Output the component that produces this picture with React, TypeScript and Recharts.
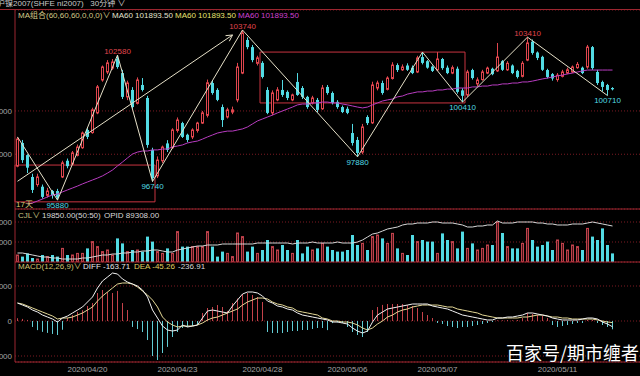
import React from 'react';
import {
  ComposedChart, Bar, Line, XAxis, YAxis, CartesianGrid,
  ReferenceLine, ReferenceArea, ReferenceDot
} from 'recharts';

// 30-minute candles (one entry per bar)
const opens = [
  97450, 98520, 97960, 96950, 96600, 96500, 96100, 96300, 96300, 96950,
  97700, 97550, 97950, 98300, 99120, 99000, 99910, 101430, 101800, 101980,
  102400, 101750, 100650, 100970, 100350, 101200, 100600, 98200, 97000, 97700,
  98500, 98300, 99100, 99440, 98900, 98800, 99100, 99440, 99800, 101290,
  100970, 100180, 99720, 99950, 100510, 101750, 103280, 102950, 102200, 102220,
  100970, 99910, 100510, 100970, 100880, 100510, 101340, 101060, 100650, 100370,
  100510, 100100, 101110, 100830, 100420, 100180, 100100, 98980, 98660, 98100,
  99720, 99450, 101060, 101290, 101000, 101500, 102120, 101900, 102100, 102000,
  101800, 102490, 102300, 102050, 101900, 102400, 102000, 101750, 101950, 100950,
  100740, 101890, 101250, 101450, 101750, 101950, 101850, 102300, 101900, 102100,
  101850, 101600, 102350, 103200, 102700, 102500, 101890, 101700, 101450, 101600,
  101750, 101800, 102000, 102000, 102030, 102950, 101800, 101340, 101200, 101060,
];
const highs = [
  98800, 98660, 98000, 97100, 97100, 96600, 96450, 96350, 96400, 97700,
  97800, 98150, 98450, 99050, 99200, 100150, 101200, 102100, 102350, 102400,
  102580, 101900, 101400, 101100, 101550, 101520, 100700, 98300, 97900, 98400,
  98650, 99200, 99700, 99500, 98950, 99200, 99500, 100000, 101450, 101400,
  101050, 100300, 100150, 100200, 102220, 103740, 103400, 103050, 102550, 102300,
  101100, 100950, 101100, 101430, 100950, 100800, 101750, 101150, 100700, 100700,
  100600, 101200, 101200, 100900, 100500, 100250, 100200, 99400, 98800, 99400,
  99800, 101350, 101400, 101400, 101600, 102250, 102200, 102150, 102200, 102100,
  102550, 102720, 102350, 102100, 102720, 102450, 102100, 102100, 102050, 101050,
  101900, 101950, 101550, 101900, 102050, 102000, 103140, 102350, 102300, 102150,
  101900, 102300, 103410, 103300, 102750, 102550, 101950, 101750, 101750, 101900,
  102000, 102100, 102260, 102050, 103050, 103000, 101900, 101400, 101250, 101100,
];
const lows = [
  97400, 97600, 97130, 96210, 96500, 95950, 96000, 95950, 95880, 96900,
  97350, 97500, 97900, 98250, 98700, 98950, 99850, 101350, 101700, 101900,
  101950, 100550, 100500, 100100, 100300, 100900, 98300, 96740, 96900, 97600,
  98100, 98250, 99000, 98750, 98550, 98700, 99000, 99400, 99700, 100750,
  100450, 99260, 99650, 99850, 100400, 101700, 102850, 102250, 102100, 101500,
  99850, 99800, 100450, 100650, 100500, 100450, 100700, 100550, 100100, 100300,
  99950, 100050, 100750, 100300, 100100, 99900, 99850, 98400, 97880, 98000,
  99350, 99400, 100950, 100750, 100950, 101450, 101800, 101850, 101850, 101700,
  101750, 102150, 101950, 101800, 101850, 101900, 101700, 101700, 100800, 100410,
  100650, 101450, 101150, 101400, 101700, 101650, 101800, 101850, 101850, 101700,
  101500, 101550, 102300, 102600, 102350, 101850, 101500, 101400, 101350, 101550,
  101700, 101750, 101950, 101700, 101950, 101900, 101200, 100900, 100710, 100950,
];
const closes = [
  98700, 97730, 97380, 96350, 96950, 96030, 96300, 96100, 96000, 97600,
  97450, 98060, 98330, 98980, 98800, 100050, 101110, 102030, 102220, 102260,
  102030, 100650, 101290, 100180, 101430, 100970, 98430, 96900, 97730, 98330,
  98200, 99120, 99580, 98800, 98660, 99120, 99440, 99910, 101300, 100830,
  100510, 99580, 100050, 100050, 102030, 103600, 102950, 102350, 102450, 101570,
  99910, 100830, 100970, 100740, 100600, 100740, 100740, 100650, 100180, 100600,
  100050, 101060, 100830, 100370, 100180, 99950, 99910, 98520, 98060, 99260,
  99440, 101200, 101290, 100830, 101520, 102120, 101890, 102030, 101900, 101750,
  102450, 102220, 102000, 101850, 102400, 101980, 101750, 102000, 100880, 100700,
  101800, 101520, 101430, 101800, 101980, 101700, 102490, 101900, 102200, 101750,
  101570, 102200, 103140, 102680, 102450, 101900, 101570, 101500, 101650, 101800,
  101900, 102030, 102150, 101750, 102950, 101980, 101290, 101110, 100970, 101000,
];
const ma60 = [
  null, null, 95700, 95750, 95840, 95930, 96030, 96120, 96160, 96260,
  96350, 96440, 96530, 96630, 96720, 96810, 96900, 97000, 97130, 97270,
  97460, 97640, 97830, 98010, 98100, 98150, 98150, 98200, 98200, 98240,
  98240, 98340, 98380, 98430, 98520, 98570, 98610, 98700, 98800, 98890,
  98980, 99030, 99070, 99070, 99120, 99170, 99260, 99400, 99540, 99630,
  99720, 99810, 99910, 100000, 100090, 100180, 100280, 100320, 100320, 100370,
  100370, 100410, 100410, 100370, 100370, 100320, 100280, 100230, 100180, 100140,
  100180, 100280, 100370, 100460, 100510, 100550, 100650, 100690, 100780, 100830,
  100880, 100880, 100920, 100920, 100970, 100970, 101010, 101010, 101060, 101060,
  101060, 101110, 101110, 101150, 101150, 101200, 101200, 101250, 101250, 101290,
  101290, 101340, 101340, 101380, 101430, 101480, 101520, 101570, 101620, 101660,
  101710, 101750, 101800, 101850, 101890, 101890, 101890, 101890, 101890, 101890,
];
const volumes = [
  3500, 2700, 4300, 2000, 1500, 3500, 2700, 3500, 2700, 6800,
  3500, 3500, 4300, 4300, 6800, 10200, 7700, 5200, 6000, 3500,
  11800, 9300, 5200, 6000, 6000, 5200, 12700, 10200, 5200, 4300,
  6800, 4300, 15200, 7700, 7700, 7700, 7700, 7700, 15200, 7700,
  2700, 5200, 4300, 2700, 14500, 12700, 5200, 7700, 4300, 6000,
  11000, 7700, 6000, 8500, 6000, 4300, 11000, 4300, 7700, 6000,
  6800, 9300, 7700, 6000, 5200, 5200, 6000, 13500, 8500, 9300,
  6000, 12700, 13500, 11800, 9300, 14300, 6800, 4300, 3500, 13500,
  10200, 11000, 10200, 10200, 4300, 14300, 11000, 10200, 6800, 15200,
  6800, 9300, 6000, 6800, 8500, 8500, 20000, 14500, 7700, 6800,
  6800, 9300, 16800, 11000, 7700, 8500, 10200, 6000, 11000, 9300,
  6000, 8500, 7700, 6000, 16800, 12700, 11000, 16800, 8500, 4300,
];
const openInterest = [
  74860, 74860, 74320, 73780, 73240, 72700, 72700, 72160, 72160, 71620,
  71620, 71620, 71620, 72160, 72160, 72700, 73240, 73780, 73780, 74320,
  74320, 74860, 74860, 75400, 75400, 75940, 75940, 76480, 76480, 75940,
  75400, 75400, 76480, 77020, 77560, 78100, 78640, 78640, 79180, 79180,
  79180, 79720, 79720, 79720, 79720, 79720, 79720, 79720, 80260, 80260,
  80260, 80260, 80260, 80260, 80260, 79720, 80260, 80260, 80260, 80800,
  80260, 80260, 80260, 80260, 80800, 80260, 80260, 80260, 80800, 81880,
  83500, 85120, 85660, 86740, 87820, 88360, 88900, 89980, 90520, 90520,
  91060, 91060, 91060, 91600, 91600, 91060, 91060, 91060, 90520, 89980,
  88900, 88900, 89440, 89440, 89980, 89980, 92140, 91060, 91060, 91060,
  91600, 91600, 91600, 91600, 91060, 91060, 90520, 90520, 89980, 89980,
  89980, 90520, 90520, 90520, 91060, 91600, 91060, 90520, 89980, 89440,
];
const diffs = [
  514, 457, 400, 314, 257, 171, 114, 57, -29, 86,
  143, 229, 314, 400, 543, 686, 943, 1143, 1257, 1371,
  1343, 1200, 1114, 1057, 1000, 886, 686, 314, 86, -143,
  -257, -286, -257, -114, -171, -143, -114, 86, 286, 314,
  286, 257, 229, 429, 600, 771, 829, 829, 800, 714,
  571, 514, 429, 400, 343, 314, 229, 171, 143, 114,
  86, 57, 29, -29, -29, -57, -86, -200, -286, -343,
  -286, -29, 171, 257, 343, 371, 400, 429, 457, 486,
  486, 486, 486, 429, 400, 371, 343, 286, 229, 171,
  143, 114, 86, 57, 29, 29, 86, 86, 114, 114,
  143, 171, 229, 229, 200, 171, 143, 86, 57, 29,
  29, 29, 29, 57, 86, 86, 57, -29, -86, -164,
];
const deas = [
  514, 486, 430, 371, 314, 257, 200, 143, 57, 86,
  86, 114, 171, 229, 314, 400, 571, 714, 829, 943,
  1057, 1086, 1086, 1057, 971, 857, 743, 600, 400, 114,
  -29, -114, -171, -143, -143, -143, -114, -57, 29, 86,
  114, 171, 229, 286, 343, 457, 543, 600, 657, 657,
  629, 543, 486, 457, 400, 371, 286, 257, 229, 200,
  171, 86, 57, 0, 0, -29, -29, -57, -114, -200,
  -257, -200, -86, 0, 114, 171, 257, 314, 343, 400,
  429, 457, 457, 457, 457, 429, 400, 400, 343, 314,
  286, 257, 229, 171, 143, 114, 86, 86, 86, 86,
  86, 114, 114, 143, 171, 171, 143, 114, 114, 86,
  86, 57, 57, 57, 57, 57, 29, 0, -29, -45,
];
const macdHist = [
  80, 60, 30, -170, -260, -310, -340, -370, -400, -250,
  86, 171, 260, 310, 430, 514, 800, 886, 829, 800,
  860, 514, 314, -170, -230, -314, -543, -1000, -1114, -914,
  -740, -457, -314, -200, -170, -140, -114, 230, 371, 400,
  457, 400, 290, 514, 640, 771, 800, 743, 686, 543,
  -314, -343, -343, -343, -314, -286, -286, -257, -257, -229,
  -200, -200, -260, -60, -40, -57, -171, -314, -400, -457,
  -314, 314, 400, 460, 486, 486, 486, 486, 457, 429,
  371, 257, 171, 86, -57, -86, -143, -171, -200, -171,
  -171, -143, -114, -86, -57, -29, 20, 20, 29, 20,
  29, 86, 229, 200, 171, 143, 86, -114, -171, -143,
  -114, -86, -57, -57, 29, 29, -57, -114, -171, -237,
];

// zigzag turning points (bar index, price)
const zzIdx = [0, 8, 20, 27, 45, 68, 81, 89, 102, 118];
const zzVal = [98800, 95880, 102580, 96740, 103740, 97880, 102720, 100410, 103410, 100710];
const highMarks = [[20, 102580], [45, 103740], [102, 103410]];
const lowMarks = [[8, 95880], [27, 96740], [68, 97880], [89, 100410], [118, 100710]];
const trendLine = [{ x: 0, y: 96750 }, { x: 43, y: 103510 }];
const boxes = [
  { x1: 0, x2: 27, y1: 95800, y2: 97500 },
  { x1: 49, x2: 89, y1: 100370, y2: 102720 },
];

const dateTickIdx = [14, 32, 49, 66, 84, 108];
const dateTickLabels = ['2020/04/20', '2020/04/23', '2020/04/28', '2020/05/06', '2020/05/07', '2020/05/11'];

const priceTicks = [98000, 100000];
const volTicks = [10000, 20000];
const macdTicks = [-1000, 0, 1000];

const RED = '#e0464e';
const CYAN = '#52dbe4';
const GRID = '#7c1a22';
const FRAME = '#9c2630';
const BOX = '#c83440';
const ZZ = '#e6e0c8';
const MAGENTA = '#b83cc0';
const FONT = "'Liberation Sans', 'Noto Sans CJK SC', sans-serif";

const N = closes.length;
const PAD = 5;
const rows = Array.from({ length: N + PAD }, (_, i) => {
  if (i >= N) return { i };
  const z = zzIdx.indexOf(i);
  return {
    i,
    o: opens[i], h: highs[i], l: lows[i], c: closes[i],
    range: [lows[i], highs[i]],
    ma: ma60[i],
    zz: z >= 0 ? zzVal[z] : null,
    v: volumes[i],
    oi: openInterest[i],
    diff: diffs[i],
    dea: deas[i],
    macd: macdHist[i],
  };
});

const axisTick = { fill: '#a4a4a4', fontSize: 8, fontFamily: FONT };

const Candle = (props: any) => {
  const { x, y, width, height, payload } = props;
  if (!payload || payload.o == null) return null;
  const { o, h, l, c } = payload;
  const top = Math.min(y, y + height);
  const span = Math.abs(height);
  const py = (v: number) => top + ((h - v) / (h - l || 1)) * span;
  const up = c >= o;
  const col = up ? RED : CYAN;
  const cx = Math.floor(x + width / 2) + 0.5;
  const bt = py(Math.max(o, c));
  const bh = Math.max(1, py(Math.min(o, c)) - bt);
  return (
    <g>
      <line x1={cx} x2={cx} y1={top} y2={top + span} stroke={col} strokeWidth={1} />
      {up ? (
        <rect x={cx - 1} y={bt} width={2} height={bh} fill="#000" stroke={col} strokeWidth={1} />
      ) : (
        <rect x={cx - 1.5} y={bt} width={3} height={bh} fill={col} />
      )}
    </g>
  );
};

const VolBar = (props: any) => {
  const { x, y, width, height, payload } = props;
  if (!payload || payload.v == null) return null;
  const up = payload.c >= payload.o;
  const cx = Math.floor(x + width / 2) + 0.5;
  const top = Math.min(y, y + height);
  const hh = Math.abs(height);
  return up ? (
    <rect x={cx - 1} y={top} width={2} height={hh} fill="#4a1418" stroke="#c0424c" strokeWidth={1} />
  ) : (
    <rect x={cx - 1.5} y={top} width={3} height={hh} fill={CYAN} />
  );
};

const MacdBar = (props: any) => {
  const { x, y, width, height, payload } = props;
  if (!payload || payload.macd == null) return null;
  const cx = Math.floor(x + width / 2) + 0.5;
  const top = Math.min(y, y + height);
  return (
    <line x1={cx} x2={cx} y1={top} y2={top + Math.abs(height)}
      stroke={payload.macd >= 0 ? '#c4424a' : '#62ccd4'} strokeWidth={1} />
  );
};

const ArrowLine = (p: any) => {
  const { x1, y1, x2, y2 } = p;
  if ([x1, y1, x2, y2].some((n) => typeof n !== 'number' || isNaN(n))) return null;
  const a = Math.atan2(y2 - y1, x2 - x1);
  const L = 7;
  const hx = (d: number) => x2 - L * Math.cos(a + d);
  const hy = (d: number) => y2 - L * Math.sin(a + d);
  return (
    <g>
      <line x1={x1} y1={y1} x2={x2} y2={y2} stroke={ZZ} strokeWidth={1} />
      <polyline points={`${hx(0.5)},${hy(0.5)} ${x2},${y2} ${hx(-0.5)},${hy(-0.5)}`}
        fill="none" stroke={ZZ} strokeWidth={1} />
    </g>
  );
};

const fmtDate = (v: any) => {
  const k = dateTickIdx.indexOf(Number(v));
  return k >= 0 ? dateTickLabels[k] : '';
};

const CW = 685;
const margin = { top: 0, right: 0, bottom: 0, left: 0 };

const yAxisProps = {
  width: 60,
  tickLine: false,
  tickSize: 0,
  tickMargin: 3,
  axisLine: { stroke: FRAME },
  tick: axisTick,
  allowDataOverflow: true,
  interval: 0 as const,
};

const txt = (left: number, top: number, color: string, s: string, size = 8) => (
  <div style={{ position: 'absolute', left, top, color, fontSize: size, whiteSpace: 'pre', lineHeight: 1 }}>{s}</div>
);

export default function App() {
  return (
    <div style={{ position: 'absolute', left: 0, top: 0, width: 640, height: 376, background: '#000', overflow: 'hidden', fontFamily: FONT }}>
      {/* price panel */}
      <div style={{ position: 'absolute', left: -45, top: 10 }}>
        <ComposedChart width={CW} height={200} data={rows} margin={margin}>
          <CartesianGrid vertical={false} stroke={GRID} strokeDasharray="1 2" />
          <XAxis dataKey="i" type="category" height={1} tick={false} tickLine={false} axisLine={{ stroke: FRAME }} />
          <YAxis domain={[95470, 104664]} ticks={priceTicks} {...yAxisProps} />
          {boxes.map((b, k) => (
            <ReferenceArea key={k} x1={b.x1} x2={b.x2} y1={b.y1} y2={b.y2} fill="none" fillOpacity={0} stroke={BOX} strokeWidth={1} />
          ))}
          <Line dataKey="ma" stroke={MAGENTA} strokeWidth={1} dot={false} isAnimationActive={false} />
          <Bar dataKey="range" barSize={3} shape={Candle} isAnimationActive={false} />
          <Line dataKey="zz" stroke={ZZ} strokeWidth={1} dot={false} connectNulls isAnimationActive={false} />
          <ReferenceLine segment={trendLine} shape={ArrowLine} />
          {highMarks.map(([i, v]) => (
            <ReferenceDot key={'h' + i} x={i} y={v} r={0} fill="none" stroke="none"
              label={{ value: String(v), position: 'top', offset: 1, fill: RED, fontSize: 8, fontFamily: FONT }} />
          ))}
          {lowMarks.map(([i, v]) => (
            <ReferenceDot key={'l' + i} x={i} y={v} r={0} fill="none" stroke="none"
              label={{ value: String(v), position: 'bottom', offset: 2, fill: CYAN, fontSize: 8, fontFamily: FONT }} />
          ))}
        </ComposedChart>
      </div>

      {/* volume / open interest panel */}
      <div style={{ position: 'absolute', left: -45, top: 209 }}>
        <ComposedChart width={CW} height={54} data={rows} margin={margin}>
          <CartesianGrid vertical={false} stroke={GRID} strokeDasharray="1 2" />
          <XAxis dataKey="i" type="category" height={1} tick={false} tickLine={false} axisLine={{ stroke: FRAME }} />
          <YAxis domain={[0, 26500]} ticks={volTicks} {...yAxisProps} />
          <YAxis yAxisId="oi" orientation="right" hide domain={[70000, 98620]} allowDataOverflow />
          <Bar dataKey="v" barSize={3} shape={VolBar} isAnimationActive={false} />
          <Line yAxisId="oi" dataKey="oi" stroke="#d8d8d8" strokeWidth={1} dot={false} isAnimationActive={false} />
        </ComposedChart>
      </div>

      {/* MACD panel */}
      <div style={{ position: 'absolute', left: -45, top: 262 }}>
        <ComposedChart width={CW} height={114} data={rows} margin={margin}>
          <CartesianGrid vertical={false} stroke={GRID} strokeDasharray="1 2" />
          <XAxis dataKey="i" type="category" height={14} interval={0} tickLine={false} tickSize={0} tickMargin={4}
            axisLine={{ stroke: FRAME }} tick={axisTick} tickFormatter={fmtDate} />
          <YAxis domain={[-1171, 1686]} ticks={macdTicks} {...yAxisProps} />
          <Bar dataKey="macd" barSize={1} shape={MacdBar} isAnimationActive={false} />
          <Line dataKey="dea" stroke="#e4d896" strokeWidth={1} dot={false} isAnimationActive={false} />
          <Line dataKey="diff" stroke="#f2f2f2" strokeWidth={1} dot={false} isAnimationActive={false} />
        </ComposedChart>
      </div>

      {/* frame top line */}
      <div style={{ position: 'absolute', left: 0, top: 9, width: 640, height: 1, background: FRAME }} />

      {/* header and legends */}
      {txt(-3, 0, '#c8c8c8', '沪镍2007(SHFE ni2007)   30分钟 ∨')}
      {txt(18, 12, '#d4c888', 'MA组合(60,60,60,0,0,0)∨')}
      {txt(112, 12, '#e4e4d0', 'MA60 101893.50')}
      {txt(175, 12, '#e8e070', 'MA60 101893.50')}
      {txt(238, 12, '#d040d0', 'MA60 101893.50')}
      {txt(16, 201, '#d8c878', '17天')}
      {txt(18, 212, '#c8c080', 'CJL∨')}
      {txt(42, 212, '#d8d8d8', '19850.00(50:50)')}
      {txt(104, 212, '#d8d8d8', 'OPID 89308.00')}
      {txt(18, 263, '#d0c070', 'MACD(12,26,9)∨')}
      {txt(83, 263, '#e8e8e8', 'DIFF -163.71')}
      {txt(134, 263, '#e0d060', 'DEA -45.26')}
      {txt(178, 263, '#d8d8d8', '-236.91')}

      <div style={{ position: 'absolute', left: 506, top: 343, color: '#fff', fontSize: 18, lineHeight: 1, whiteSpace: 'pre', fontFamily: "'Noto Sans CJK SC', sans-serif", textShadow: '0 0 2px #000' }}>
        百家号/期市缠者
      </div>
    </div>
  );
}
